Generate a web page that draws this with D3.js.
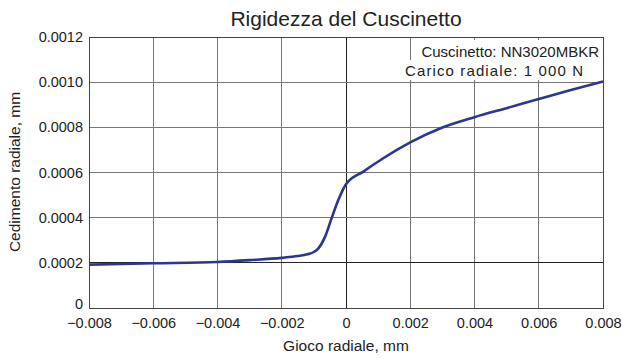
<!DOCTYPE html>
<html><head><meta charset="utf-8">
<script src="https://cdn.jsdelivr.net/npm/d3@7"></script>
<style>
body{margin:0;background:#fff;}
text{font-family:"Liberation Sans",Arial,Helvetica,sans-serif;fill:#222;}
</style></head>
<body><svg id="c" width="622" height="358"></svg>
<script>
const gap = [-0.008,-0.006,-0.004,-0.003,-0.002,-0.0015,-0.0012,-0.001,-0.00086,-0.00065,-0.00045,-0.00024,0,0.00054,0.00116,0.002,0.003,0.004,0.005,0.006,0.007,0.008];
const deflection = [0.000192,0.000198,0.000204,0.000212,0.000222,0.00023,0.000238,0.000248,0.000264,0.000316,0.000397,0.000478,0.000548,0.000604,0.000663,0.000733,0.000799,0.000845,0.000885,0.000925,0.000965,0.001003];
const xTicks = [-0.008,-0.006,-0.004,-0.002,0,0.002,0.004,0.006,0.008];
const xTickLabels = ["\u22120.008","\u22120.006","\u22120.004","\u22120.002","0","0.002","0.004","0.006","0.008"];
const yTicks = [0,0.0002,0.0004,0.0006,0.0008,0.0010,0.0012];
const yTickLabels = ["0","0.0002","0.0004","0.0006","0.0008","0.0010","0.0012"];
const title = "Rigidezza del Cuscinetto";
const xLabel = "Gioco radiale, mm";
const yLabel = "Cedimento radiale, mm";
const notes = ["Cuscinetto: NN3020MBKR","Carico radiale: 1 000 N"];

const svg = d3.select("#c");
const L=89,R=603,T=37,B=308;
const x = d3.scaleLinear().domain([-0.008,0.008]).range([L,R]);
const y = d3.scaleLinear().domain([0,0.0012]).range([B,T]);

const g = svg.append("g");
xTicks.forEach(v=>{
  g.append("line").attr("x1",x(v)).attr("x2",x(v)).attr("y1",T).attr("y2",B)
   .attr("stroke", v===0?"#222":"#777").attr("stroke-width",1).attr("shape-rendering","crispEdges");
});
yTicks.forEach(v=>{
  g.append("line").attr("x1",L).attr("x2",R).attr("y1",y(v)).attr("y2",y(v))
   .attr("stroke", (Math.abs(v-0.0002)<1e-9)?"#222":"#777").attr("stroke-width",1).attr("shape-rendering","crispEdges");
});
g.append("rect").attr("x",L).attr("y",T).attr("width",R-L).attr("height",B-T)
 .attr("fill","none").attr("stroke","#444").attr("stroke-width",1).attr("shape-rendering","crispEdges");

const xa = d3.axisBottom(x).tickValues(xTicks).tickSize(0).tickPadding(0)
  .tickFormat((d,i)=>xTickLabels[i]);
svg.append("g").attr("transform",`translate(0,${B})`).call(xa)
  .call(a=>a.select(".domain").remove())
  .selectAll("text").attr("font-size",14.5).attr("fill","#222").attr("dy",null).attr("y",20)
  .attr("font-family","Liberation Sans,Arial,sans-serif");
const ya = d3.axisLeft(y).tickValues(yTicks).tickSize(0).tickPadding(6)
  .tickFormat((d,i)=>yTickLabels[i]);
svg.append("g").attr("transform",`translate(${L},0)`).call(ya)
  .call(a=>a.select(".domain").remove())
  .selectAll("text").attr("font-size",14.5).attr("fill","#222")
  .attr("font-family","Liberation Sans,Arial,sans-serif")
  .attr("dy",(d)=> d===0 ? "0em" : "0.32em");

// notes
svg.append("rect").attr("x",413).attr("y",40).attr("width",R-413-1).attr("height",21).attr("fill","#fff");
svg.append("rect").attr("x",398).attr("y",60).attr("width",R-398-1).attr("height",20).attr("fill","#fff");
svg.append("text").attr("x",599).attr("y",57).attr("text-anchor","end").attr("font-size",15).text(notes[0]);
svg.append("text").attr("x",405).attr("y",76).attr("font-size",15)
  .attr("textLength",178).attr("lengthAdjust","spacing").text(notes[1]);

const pts = gap.map((v,i)=>[v,deflection[i]]);
svg.append("path").datum(pts)
  .attr("d", d3.line().x(d=>x(d[0])).y(d=>y(d[1])).curve(d3.curveMonotoneX))
  .attr("fill","none").attr("stroke","#2b3593").attr("stroke-width",2.6).attr("stroke-linejoin","round");

svg.append("text").attr("x",346).attr("y",26).attr("text-anchor","middle").attr("font-size",21).text(title);
svg.append("text").attr("x",346).attr("y",351).attr("text-anchor","middle").attr("font-size",15.5).text(xLabel);
svg.append("text").attr("transform",`translate(20,172) rotate(-90)`).attr("text-anchor","middle").attr("font-size",15.5).text(yLabel);
</script></body></html>
